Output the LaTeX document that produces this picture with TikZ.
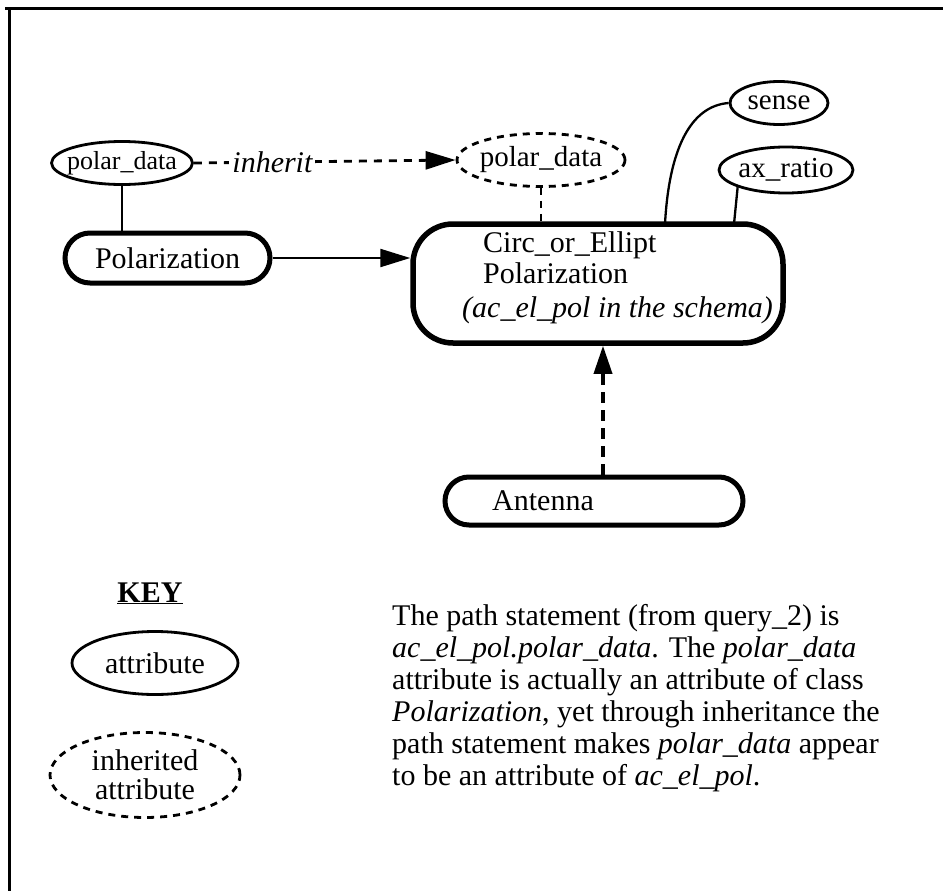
\documentclass[tikz,border=0pt]{standalone}
\usepackage{fontspec}
\setmainfont{Liberation Serif}
\usetikzlibrary{arrows.meta,shapes.geometric,calc}
\begin{document}
\begin{tikzpicture}[x=1pt,y=-1pt,
  attr/.style={draw,ellipse,line width=2.8pt,inner sep=-20pt,font=\fontsize{29}{30}\selectfont},
  iattr/.style={attr,dash pattern=on 7pt off 6pt},
  cls/.style={draw,rectangle,line width=5pt,inner sep=0pt},
  conn/.style={line width=2.3pt},
  tip/.style={-{Triangle[length=30pt,width=18pt]}},
  txt/.style={inner sep=0pt,font=\fontsize{30}{31}\selectfont}
]
\useasboundingbox (0,0) rectangle (943,891);
% frame
\draw[line width=3pt] (5,9) -- (943,9);
\draw[line width=3pt] (9,9) -- (9,891);

% attribute ellipses
\node[attr, minimum width=141pt, minimum height=43pt, font=\fontsize{26}{27}\selectfont] (pdL) at (122,163) {polar\_data};
\node[iattr, minimum width=168pt, minimum height=53pt] (pdR) at (541,160) {polar\_data};
\node[attr, minimum width=98pt, minimum height=43pt] (sense) at (779,103) {sense};
\node[attr, minimum width=134pt, minimum height=46pt] (ax) at (786,170) {ax\_ratio};

% class boxes
\node[cls, rounded corners=25pt, minimum width=205pt, minimum height=50pt, font=\fontsize{30}{31}\selectfont] (pol) at (167.5,258) {Polarization};
\node[cls, rounded corners=40pt, line width=5.5pt, minimum width=370pt, minimum height=119pt] (circ) at (598,283.5) {};
\node[txt, anchor=base west] (c1) at (483,252) {Circ\_or\_Ellipt};
\node[txt, anchor=base west] (c2) at (483,283) {Polarization};
\node[txt, anchor=base west, font=\fontsize{30}{31}\selectfont\itshape] (c3) at (462,317) {(ac\_el\_pol in the schema)};
\node[cls, rounded corners=24pt, minimum width=298pt, minimum height=48pt] (ant) at (594,501) {};
\node[txt, anchor=base west] (antT) at (492,510) {Antenna};

% connectors
\draw[conn] (pdL.south) -- (pdL.south |- pol.north);
\draw[line width=2.8pt, dash pattern=on 8pt off 7pt, tip] (pdL.east) -- node[pos=0.3, fill=white, inner sep=3pt, font=\fontsize{30}{31}\selectfont\itshape] (inh) {inherit} (pdR.west);
\draw[line width=2.8pt, dash pattern=on 7pt off 6pt] (pdR.south) -- (pdR.south |- circ.north);
\draw[conn, tip] (pol.east) -- (pol.east -| circ.west);
\coordinate (sA) at (665,224);
\draw[conn] (sA) .. controls (669,150) and (690,106) .. (sense.west);
\coordinate (aA) at (734,224);
\draw[conn] (aA) -- (ax.south west);
\coordinate (vx) at (603,0);
\draw[line width=3.5pt, dash pattern=on 11pt off 7pt, -{Triangle[length=28pt,width=18pt]}] (ant.north -| vx) -- (circ.south -| vx);

% key
\node[txt, anchor=base, font=\fontsize{30}{31}\selectfont\bfseries] (key) at (150,602) {\underline{KEY}};
\node[attr, minimum width=166pt, minimum height=63pt, font=\fontsize{30}{31}\selectfont] (kA) at (155,663) {attribute};
\node[iattr, minimum width=190pt, minimum height=85pt, align=center, font=\fontsize{30}{29}\selectfont] (kI) at (145,775) {inherited\\attribute};

% paragraph
\node[anchor=north west, inner sep=0pt, align=left, font=\fontsize{30}{32}\selectfont] (para) at (392,604) {The path statement (from query\_2) is\\
\textit{ac\_el\_pol.polar\_data}. The \textit{polar\_data}\\
attribute is actually an attribute of class\\
\textit{Polarization}, yet through inheritance the\\
path statement makes \textit{polar\_data} appear\\
to be an attribute of \textit{ac\_el\_pol}.};
\end{tikzpicture}
\end{document}
